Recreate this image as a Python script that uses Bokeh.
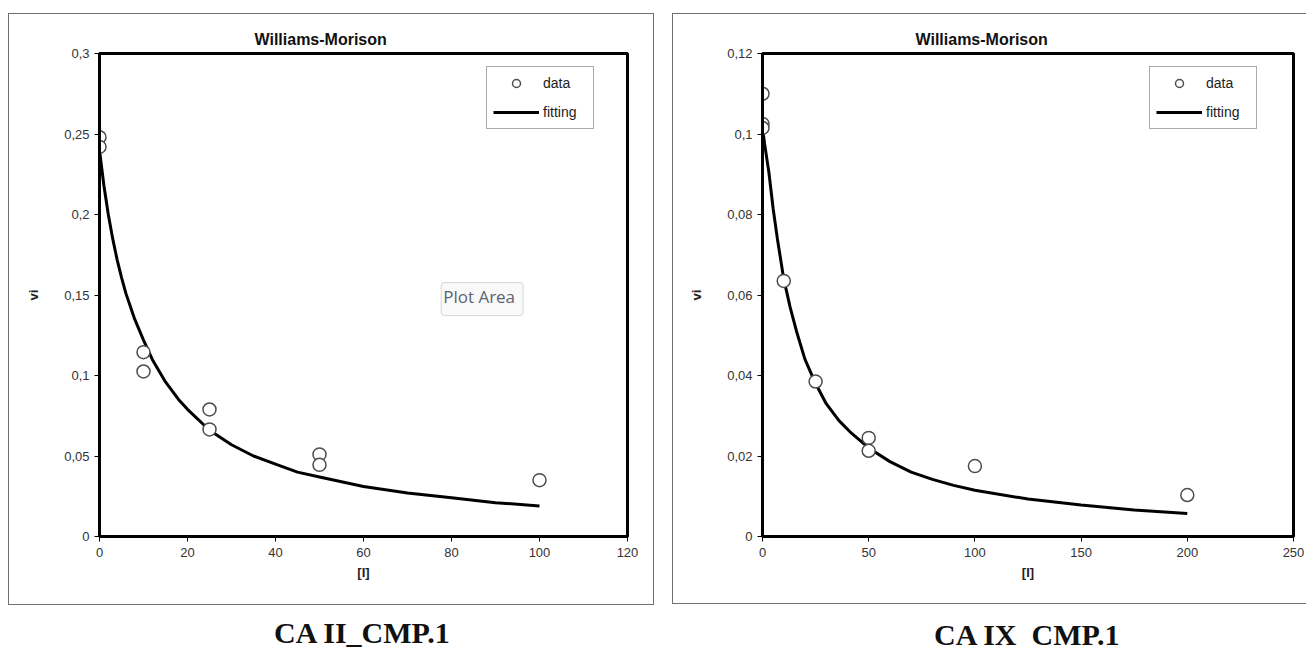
from bokeh.plotting import figure
from bokeh.layouts import row, column
from bokeh.models import Range1d, FixedTicker, Label, Legend, LegendItem, Spacer
from bokeh.embed import file_html
from bokeh.resources import INLINE

# ---------------- data: CA II_CMP.1 ----------------
ca2_I = [0, 0, 10, 10, 25, 25, 50, 50, 100]
ca2_vi = [0.248, 0.242, 0.1145, 0.1025, 0.0789, 0.0665, 0.051, 0.0445, 0.035]
ca2_fit_I = [0, 1, 2, 3, 4, 5, 6, 8, 10, 12, 15, 18, 20, 25, 30, 35, 40, 45, 50, 60, 70, 80, 90, 100]
ca2_fit_vi = [0.240, 0.218, 0.200, 0.185, 0.172, 0.161, 0.151, 0.135, 0.122, 0.110, 0.096, 0.085,
              0.079, 0.066, 0.057, 0.050, 0.045, 0.040, 0.037, 0.031, 0.027, 0.024, 0.021, 0.019]
ca2_xticks = [0, 20, 40, 60, 80, 100, 120]
ca2_yticks = [0, 0.05, 0.1, 0.15, 0.2, 0.25, 0.3]
ca2_ylabels = ["0", "0,05", "0,1", "0,15", "0,2", "0,25", "0,3"]

# ---------------- data: CA IX CMP.1 ----------------
ca9_I = [0, 0, 0, 10, 25, 50, 50, 100, 200]
ca9_vi = [0.110, 0.1025, 0.1015, 0.0635, 0.0385, 0.0245, 0.0213, 0.0175, 0.0103]
ca9_fit_I = [0, 1, 2, 3, 5, 7, 10, 13, 16, 20, 25, 30, 36, 42, 50, 60, 70, 80, 90, 100, 125, 150, 175, 200]
ca9_fit_vi = [0.1015, 0.0975, 0.0940, 0.0905, 0.0815, 0.0740, 0.0640, 0.0570, 0.0510, 0.0440,
              0.0380, 0.0330, 0.0288, 0.0256, 0.0220, 0.0186, 0.0160, 0.0142, 0.0127, 0.0115,
              0.0093, 0.0078, 0.0066, 0.0057]
ca9_xticks = [0, 50, 100, 150, 200, 250]
ca9_yticks = [0, 0.02, 0.04, 0.06, 0.08, 0.1, 0.12]
ca9_ylabels = ["0", "0,02", "0,04", "0,06", "0,08", "0,1", "0,12"]

TITLE = "Williams-Morison"
SANS = "Liberation Sans"


def make_chart(I, vi, fit_I, fit_vi, xticks, yticks, ylabels,
               width, height, left, right, top, bottom, title_offset, box_css):
    p = figure(width=width, height=height, output_backend="svg", toolbar_location=None,
               x_range=Range1d(xticks[0], xticks[-1]), y_range=Range1d(yticks[0], yticks[-1]),
               min_border_left=left, min_border_right=right,
               min_border_top=top, min_border_bottom=bottom,
               title=TITLE)
    p.styles = box_css
    p.title.align = "left"
    p.title.offset = title_offset
    p.title.text_font = SANS
    p.title.text_font_size = "16px"
    p.title.text_font_style = "bold"
    p.title.text_color = "#111111"
    p.title.standoff = 12
    p.background_fill_color = "white"
    p.border_fill_color = "white"
    p.outline_line_color = "black"
    p.outline_line_width = 3
    p.xgrid.visible = False
    p.ygrid.visible = False

    for ax in (p.xaxis[0], p.yaxis[0]):
        ax.axis_line_width = 3
        ax.axis_line_color = "black"
        ax.major_tick_line_color = "black"
        ax.major_tick_line_width = 1
        ax.major_tick_out = 5
        ax.major_tick_in = 0
        ax.minor_tick_line_color = None
        ax.major_label_text_font = SANS
        ax.major_label_text_font_size = "13px"
        ax.major_label_text_color = "#333333"
        ax.axis_label_text_font = SANS
        ax.axis_label_text_font_size = "13px"
        ax.axis_label_text_font_style = "bold"
        ax.axis_label_text_color = "#222222"
    p.xaxis.ticker = FixedTicker(ticks=xticks)
    p.yaxis.ticker = FixedTicker(ticks=yticks)
    p.yaxis.major_label_overrides = {t: l for t, l in zip(yticks, ylabels)}
    p.xaxis.axis_label = "[I]"
    p.yaxis.axis_label = "vi"
    p.xaxis.major_label_standoff = 6
    p.yaxis.major_label_standoff = 5
    p.xaxis.axis_label_standoff = 5
    p.yaxis.axis_label_standoff = 20

    r_fit = p.line(fit_I, fit_vi, line_color="black", line_width=3)
    r_data = p.scatter(I, vi, size=13, fill_color="white", line_color="#4d4d4d", line_width=1.5)

    legend = Legend(items=[LegendItem(label="data", renderers=[r_data]),
                           LegendItem(label="fitting", renderers=[r_fit])],
                    location=(387, 407))
    legend.label_text_font = SANS
    legend.label_text_font_size = "14px"
    legend.label_text_color = "#222222"
    legend.border_line_color = "#555555"
    legend.border_line_width = 1
    legend.background_fill_color = "white"
    legend.background_fill_alpha = 1
    legend.glyph_width = 46
    legend.glyph_height = 20
    legend.label_standoff = 4
    legend.label_width = 44
    legend.spacing = 9
    legend.padding = 6
    legend.margin = 0
    p.add_layout(legend)
    return p


def make_caption(text, width, height, cx, cy):
    c = figure(width=width, height=height, output_backend="svg", toolbar_location=None,
               x_range=Range1d(0, width), y_range=Range1d(0, height),
               x_axis_type=None, y_axis_type=None, min_border=0)
    c.outline_line_color = None
    c.xgrid.visible = False
    c.ygrid.visible = False
    c.background_fill_alpha = 0
    c.border_fill_alpha = 0
    c.add_layout(Label(x=cx, y=height - cy, text=text, text_align="center",
                       text_baseline="middle", text_font="Liberation Serif",
                       text_font_size="30px", text_font_style="bold", text_color="#111111"))
    return c


box_left = {"outline": "1px solid #6f6f6f", "outline-offset": "0px"}
# right chart box runs off the right edge of the window in the reference
box_right = {"outline": "1px solid #6f6f6f", "outline-offset": "2px"}

p1 = make_chart(ca2_I, ca2_vi, ca2_fit_I, ca2_fit_vi, ca2_xticks, ca2_yticks, ca2_ylabels,
                width=644, height=590, left=90, right=26, top=39, bottom=68, title_offset=155,
                box_css=box_left)
# the "Plot Area" hover tip seen in the screenshot (with its shadow)
p1.add_layout(Label(x=77.65, y=0.1577, text="Plot Area", text_align="left", text_baseline="top",
                    x_offset=3, y_offset=-3,
                    text_font="Open Sans", text_font_size="17px", text_alpha=0,
                    background_fill_color="#9a9a9a", background_fill_alpha=0.45,
                    padding=(2, 8, 2, 8), border_radius=3))
p1.add_layout(Label(x=77.65, y=0.1577, text="Plot Area", text_align="left", text_baseline="top",
                    text_font="Open Sans", text_font_size="17px", text_color="#5b6474",
                    background_fill_color="#f9f9f9", border_line_color="#d6d6d6",
                    padding=(2, 8, 2, 8), border_radius=3))

p2 = make_chart(ca9_I, ca9_vi, ca9_fit_I, ca9_fit_vi, ca9_xticks, ca9_yticks, ca9_ylabels,
                width=631, height=585, left=87, right=13, top=37, bottom=65, title_offset=153,
                box_css=box_right)

cap1 = make_caption("CA II_CMP.1", 644, 47, 321, 28)
cap2 = make_caption("CA IX\u00a0 CMP.1", 631, 50, 315, 33)

layout = row(Spacer(width=9),
             column(Spacer(height=14), p1, cap1),
             Spacer(width=22),
             column(Spacer(height=16), p2, cap2))
open("out.html", "w").write(file_html(layout, INLINE))
